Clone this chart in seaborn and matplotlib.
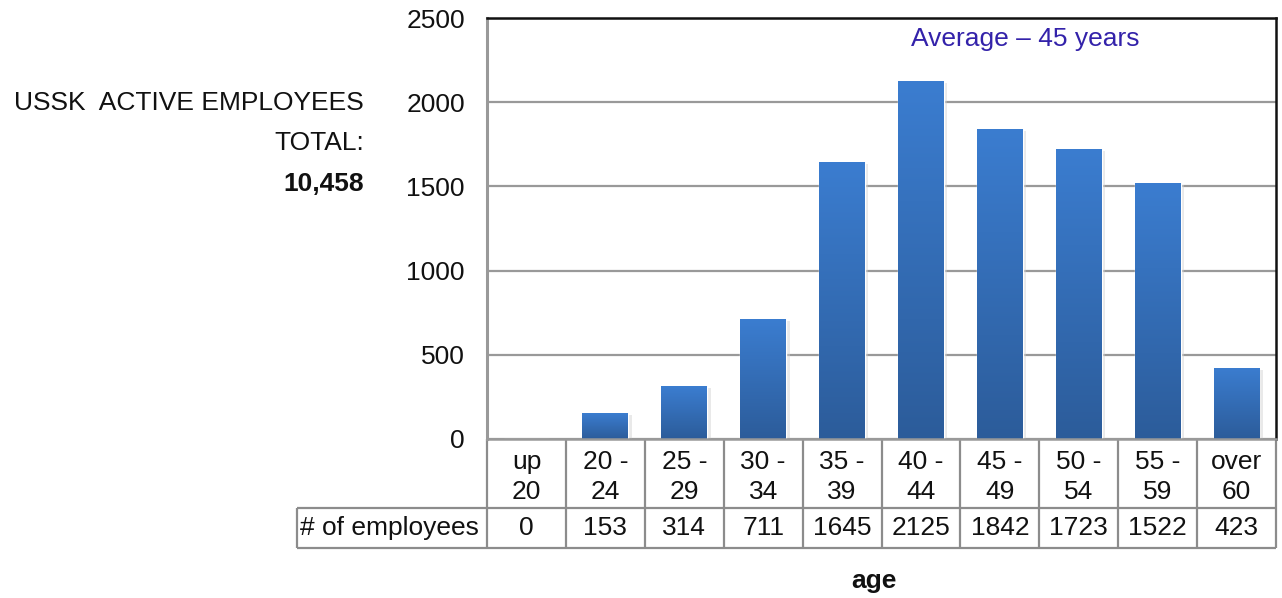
import numpy as np
import pandas as pd
import matplotlib
matplotlib.use("Agg")
import matplotlib.pyplot as plt
import matplotlib.patheffects as pe
from matplotlib.colors import LinearSegmentedColormap
import seaborn as sns

# Age groups and head counts
age_groups = ["up\n20", "20 -\n24", "25 -\n29", "30 -\n34", "35 -\n39",
              "40 -\n44", "45 -\n49", "50 -\n54", "55 -\n59", "over\n60"]
employees = [0, 153, 314, 711, 1645, 2125, 1842, 1723, 1522, 423]
y_ticks = [0, 500, 1000, 1500, 2000, 2500]
total_label = "10,458"
average_label = "Average \u2013 45 years"

sns.set_theme(style="white")
plt.rcParams["font.family"] = ["Liberation Sans", "DejaVu Sans"]

FS = 19

df = pd.DataFrame({"age": age_groups, "count": employees})

fig = plt.figure(figsize=(12.82, 5.98), dpi=100)
ax = fig.add_axes([487 / 1282, 159 / 598, 789 / 1282, 421 / 598])

sns.barplot(data=df, x="age", y="count", ax=ax, color="#3a78c6",
            width=0.58, saturation=1)

ax.set_xlim(-0.5, len(age_groups) - 0.5)
ax.set_ylim(0, 2500)
ax.set_yticks(y_ticks)
ax.set_yticklabels([str(v) for v in y_ticks], fontsize=FS, color="#111111")
ax.set_xticks([])
ax.set_xlabel("")
ax.set_ylabel("")
ax.tick_params(axis="y", length=0, pad=16)

ax.grid(axis="y", color="#999999", linewidth=1.6)
ax.set_axisbelow(True)
for side in ["top", "right"]:
    ax.spines[side].set_color("#111111")
    ax.spines[side].set_linewidth(1.8)
ax.spines["left"].set_color("#999999")
ax.spines["left"].set_linewidth(2.2)
ax.spines["bottom"].set_color("#999999")
ax.spines["bottom"].set_linewidth(1.8)

# Vertical gradient fill plus a soft shadow on each bar
grad_cmap = LinearSegmentedColormap.from_list("bar", ["#2c5c9a", "#3b7dd0"])
grad = np.linspace(0, 1, 256).reshape(-1, 1)
for bar in list(ax.patches):
    x0, w, h = bar.get_x(), bar.get_width(), bar.get_height()
    if h <= 0:
        continue
    bar.set_path_effects([pe.SimplePatchShadow(offset=(2.5, -1.5), shadow_rgbFace="#d0d0d0", alpha=0.45),
                          pe.Normal()])
    im = ax.imshow(grad, cmap=grad_cmap, aspect="auto", origin="lower",
                   extent=(x0, x0 + w, 0, h), zorder=bar.get_zorder() + 0.1,
                   interpolation="bilinear")
    im.set_clip_path(bar)
ax.set_xlim(-0.5, len(age_groups) - 0.5)
ax.set_ylim(0, 2500)

# Data table beneath the axis
tr = ax.get_xaxis_transform()
n = len(age_groups)
row1 = -69 / 421
row2 = -109 / 421
left_edge = -0.5 - 190 / 78.9
line_kw = dict(color="#8c8c8c", linewidth=1.6, clip_on=False, transform=tr,
               solid_capstyle="butt")
for i in range(n + 1):
    xe = i - 0.5
    ax.plot([xe, xe], [0, row2], **line_kw)
ax.plot([left_edge, left_edge], [row1, row2], **line_kw)
ax.plot([left_edge, n - 0.5], [row1, row1], **line_kw)
ax.plot([left_edge, n - 0.5], [row2, row2], **line_kw)

for i, (lab, val) in enumerate(zip(age_groups, employees)):
    ax.text(i, row1 / 2 - 0.008, lab, transform=tr, ha="center", va="center",
            fontsize=FS, linespacing=1.3, color="#111111")
    ax.text(i, (row1 + row2) / 2, str(val), transform=tr, ha="center",
            va="center", fontsize=FS, color="#111111")
ax.text(left_edge + 0.04, (row1 + row2) / 2, "# of employees", transform=tr,
        ha="left", va="center", fontsize=FS, color="#111111")

# Labels and annotations
fig.text(874 / 1282, 1 - 581 / 598, "age", ha="center", va="center",
         fontsize=FS, fontweight="bold", color="#111111")
fig.text(1025 / 1282, 1 - 39 / 598, average_label, ha="center",
         va="center", fontsize=FS, color="#3322aa")
fig.text(364 / 1282, 1 - 103 / 598, "USSK  ACTIVE EMPLOYEES", ha="right",
         va="center", fontsize=FS, color="#111111")
fig.text(364 / 1282, 1 - 143 / 598, "TOTAL:", ha="right", va="center",
         fontsize=FS, color="#111111")
fig.text(364 / 1282, 1 - 184 / 598, total_label, ha="right", va="center",
         fontsize=FS, fontweight="bold", color="#111111")

fig.savefig("out.png", dpi=100, facecolor="white")
